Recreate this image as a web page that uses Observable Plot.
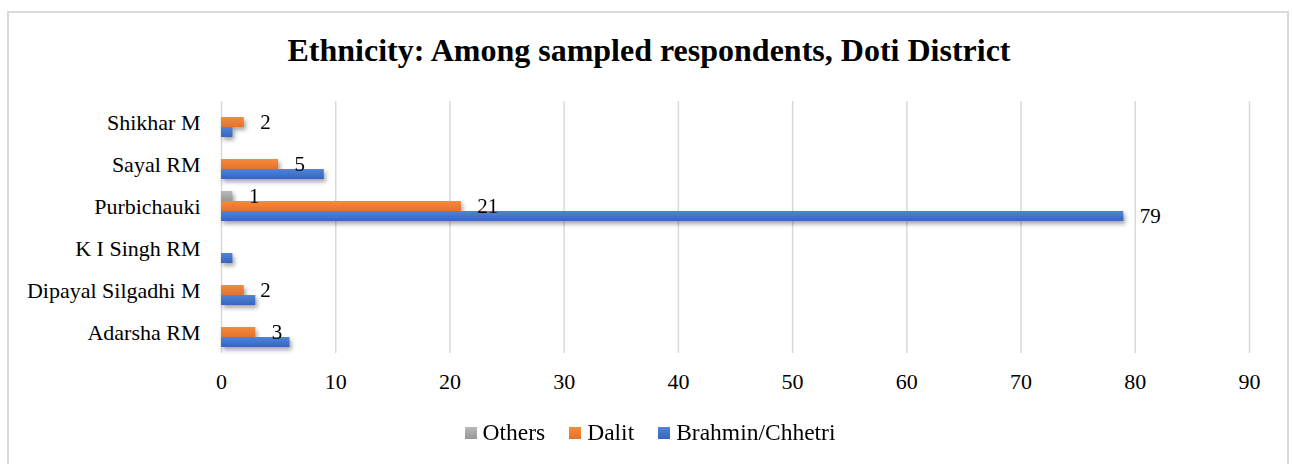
<!DOCTYPE html>
<html>
<head>
<meta charset="utf-8">
<script src="https://cdn.jsdelivr.net/npm/d3@7"></script>
<script src="https://cdn.jsdelivr.net/npm/@observablehq/plot@0.6"></script>
<style>
  html, body { margin: 0; padding: 0; background: #fff; }
  body { width: 1292px; height: 464px; position: relative; overflow: hidden; font-family: "Liberation Serif", "Times New Roman", serif; color: #000; }
  #frame { position: absolute; left: 7px; top: 11px; width: 1282px; height: 480px; border: 2px solid #d9d9d9; box-sizing: border-box; }
  #title { position: absolute; left: 0; top: 30px; width: 1298px; text-align: center; font-size: 32px; line-height: 40px; font-weight: bold; }
  #chart { position: absolute; left: 0; top: 90px; }
  #legend { position: absolute; left: 16px; top: 416px; width: 1292px; display: flex; justify-content: center; }
  .lg-swatches { font-family: "Liberation Serif", serif !important; font-size: 23.5px !important; color: #000; }
  .lg-swatch { margin-right: 24px !important; }
  .lg-swatch > svg { margin-right: 6px !important; }
</style>
</head>
<body>
<svg width="0" height="0" style="position:absolute">
  <defs>
    <linearGradient id="shadeOthers" x1="0" y1="0" x2="0" y2="1">
      <stop offset="0" stop-color="#b8b8b8"/><stop offset="1" stop-color="#979797"/>
    </linearGradient>
    <linearGradient id="shadeDalit" x1="0" y1="0" x2="0" y2="1">
      <stop offset="0" stop-color="#f68a3e"/><stop offset="1" stop-color="#e2722a"/>
    </linearGradient>
    <linearGradient id="shadeBrahmin" x1="0" y1="0" x2="0" y2="1">
      <stop offset="0" stop-color="#5084d8"/><stop offset="1" stop-color="#3765bd"/>
    </linearGradient>
  </defs>
</svg>
<div id="frame"></div>
<div id="title">Ethnicity: Among sampled respondents, Doti District</div>
<div id="chart"></div>
<div id="legend"></div>
<script>
// Respondents by ethnicity in each municipality of Doti District
const districts = ["Adarsha RM", "Dipayal Silgadhi M", "K I Singh RM", "Purbichauki", "Sayal RM", "Shikhar M"];
const series = ["Others", "Dalit", "Brahmin/Chhetri"];
const seriesFills = ["url(#shadeOthers)", "url(#shadeDalit)", "url(#shadeBrahmin)"];
const brahminChhetri = [6, 3, 1, 79, 9, 1];
const dalit = [3, 2, 0, 21, 5, 2];
const others = [0, 0, 0, 1, 0, 0];
// Brahmin/Chhetri counts carry a value label only for this municipality
const labelledBrahmin = ["Purbichauki"];
const xTicks = [0, 10, 20, 30, 40, 50, 60, 70, 80, 90];

const rows = [];
districts.forEach((d, i) => {
  rows.push({district: d, group: "Others", value: others[i], labelled: others[i] > 0});
  rows.push({district: d, group: "Dalit", value: dalit[i], labelled: dalit[i] > 0});
  rows.push({district: d, group: "Brahmin/Chhetri", value: brahminChhetri[i], labelled: labelledBrahmin.includes(d)});
});
const bars = rows.filter(r => r.value > 0);
const labels = rows.filter(r => r.labelled);

const chart = Plot.plot({
  width: 1292,
  height: 310,
  marginLeft: 221,
  marginRight: 43,
  marginTop: 11,
  marginBottom: 47,
  style: {fontFamily: "'Liberation Serif', serif", fontSize: "22px", color: "#000", background: "transparent", overflow: "visible"},
  x: {domain: [0, 90], ticks: xTicks, tickSize: 0, tickPadding: 20, label: null},
  y: {domain: series, axis: null, paddingInner: 0, paddingOuter: 0.5},
  fy: {domain: districts.slice().reverse(), padding: 0, axis: "left", tickSize: 0, tickPadding: 21, label: null},
  color: {domain: series, range: seriesFills},
  marks: [
    Plot.ruleX(xTicks, {stroke: "#d9d9d9", strokeWidth: 1.5}),
    Plot.barX(bars, {x: "value", y: "group", fy: "district", fill: "group"}),
    Plot.text(labels, {x: "value", y: "group", fy: "district", text: d => String(d.value), textAnchor: "start", dx: 16, fontSize: 21, fill: "#000"})
  ]
});

// soft shadow under the bars
d3.select(chart).selectAll("g[aria-label='bar']").style("filter", "drop-shadow(2px 3px 2px rgba(0,0,0,0.35))");
document.getElementById("chart").appendChild(chart);

const legend = Plot.legend({
  color: {domain: series, range: seriesFills},
  legend: "swatches",
  swatchSize: 12,
  className: "lg"
});
document.getElementById("legend").appendChild(legend);
</script>
</body>
</html>
